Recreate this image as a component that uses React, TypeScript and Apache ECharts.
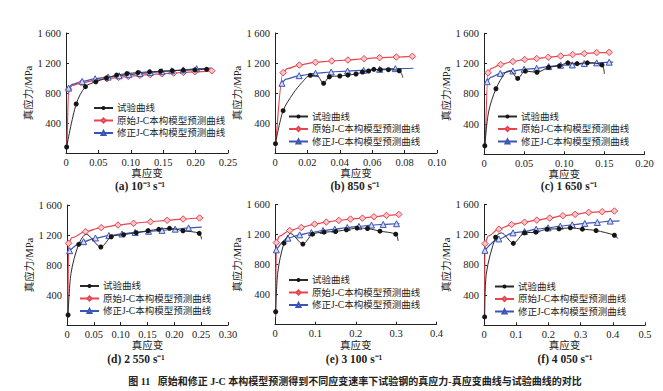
import React, { useEffect, useRef } from "react";
import * as echarts from "echarts";

type P = [number, number];

const SERIES_NAMES = ["试验曲线", "原始J-C本构模型预测曲线", "修正J-C本构模型预测曲线"];
const PANEL_LABELS = ["(a) 10⁻³ s⁻¹", "(b) 850 s⁻¹", "(c) 1 650 s⁻¹", "(d) 2 550 s⁻¹", "(e) 3 100 s⁻¹", "(f) 4 050 s⁻¹"];
const X_MAX = [0.25, 0.1, 0.2, 0.3, 0.4, 0.5];
const X_STEP = [0.05, 0.02, 0.05, 0.05, 0.1, 0.1];
const X_DECIMALS = [2, 2, 2, 2, 1, 1];
const Y_MAX = 1600;
const Y_STEP = 400;
const X_NAME = "真应变";
const Y_NAME = "真应力/MPa";
const FIGURE_CAPTION = "图 11   原始和修正 J-C 本构模型预测得到不同应变速率下试验钢的真应力-真应变曲线与试验曲线的对比";

// (a) 10^-3 s^-1
const expA: P[] = [[0.001, 80], [0.0157, 653], [0.030, 885], [0.046, 950], [0.0625, 1000], [0.078, 1038], [0.094, 1058], [0.111, 1072], [0.129, 1082], [0.146, 1090], [0.164, 1097], [0.181, 1104], [0.199, 1108], [0.217, 1116]];
const expAPath: P[] = [];
const redA: P[] = [[0.004, 850], [0.024, 935], [0.045, 968], [0.063, 990], [0.081, 1008], [0.096, 1022], [0.114, 1035], [0.130, 1046], [0.148, 1056], [0.166, 1066], [0.181, 1074], [0.199, 1083], [0.225, 1096]];
const redAPath: P[] = [[0.0015, 60], [0.010, 900]];
const blueA: P[] = [[0.004, 865], [0.025, 955], [0.045, 990], [0.065, 1012], [0.082, 1030], [0.097, 1045], [0.114, 1060], [0.130, 1072], [0.148, 1085], [0.163, 1096], [0.181, 1108], [0.2016, 1124]];
const blueAPath: P[] = [[0.010, 915], [0.224, 1132]];

// (b) 850 s^-1
const expB: P[] = [[0.0003, 124], [0.005, 564], [0.0218, 1036], [0.030, 929], [0.0336, 1017], [0.040, 1027], [0.045, 1040], [0.050, 1053], [0.054, 1080], [0.0578, 1093], [0.061, 1116], [0.065, 1111], [0.070, 1111], [0.0767, 1097]];
const expBPath: P[] = [[0.0113, 796], [0.0165, 937], [0.026, 1030], [0.079, 1004]];
const redB: P[] = [[0.005, 1071], [0.015, 1173], [0.025, 1209], [0.035, 1227], [0.045, 1240], [0.055, 1257], [0.0646, 1271], [0.0749, 1280], [0.0848, 1289]];
const redBPath: P[] = [[0.0003, 60], [0.0075, 1125]];
const blueB: P[] = [[0.0043, 929], [0.0149, 1031], [0.025, 1062], [0.0347, 1080], [0.0448, 1093], [0.0547, 1102], [0.0646, 1116], [0.0743, 1125]];
const blueBPath: P[] = [[0.007, 985], [0.0854, 1130]];

// (c) 1 650 s^-1
const expC: P[] = [[0.001, 113], [0.0149, 867], [0.042, 1003], [0.0515, 1100], [0.066, 1085], [0.0805, 1150], [0.094, 1170], [0.1045, 1210], [0.116, 1199], [0.1288, 1210], [0.147, 1182]];
const expCPath: P[] = [[0.0057, 560], [0.0265, 1079], [0.0328, 1106], [0.150, 1062]];
const redC: P[] = [[0.005, 1077], [0.0207, 1187], [0.036, 1227], [0.0506, 1253], [0.0656, 1266], [0.0801, 1283], [0.0955, 1300], [0.1104, 1319], [0.125, 1332], [0.1404, 1345], [0.156, 1349]];
const redCPath: P[] = [[0.0015, 80], [0.009, 1135]];
const blueC: P[] = [[0.004, 960], [0.0203, 1070], [0.036, 1102], [0.050, 1124], [0.0656, 1137], [0.0806, 1160], [0.0955, 1178], [0.110, 1182], [0.125, 1200], [0.1404, 1209], [0.156, 1218]];
const blueCPath: P[] = [[0.009, 1020], [0.161, 1220]];

// (d) 2 550 s^-1
const expD: P[] = [[0.002, 133], [0.0218, 1076], [0.063, 1040], [0.0825, 1177], [0.1054, 1204], [0.129, 1231], [0.151, 1257], [0.171, 1276], [0.191, 1289], [0.216, 1257], [0.2464, 1222]];
const expDPath: P[] = [[0.0075, 690], [0.036, 1210], [0.2508, 1143]];
const redD: P[] = [[0.003, 1089], [0.0345, 1244], [0.0637, 1298], [0.095, 1333], [0.124, 1356], [0.1555, 1377], [0.1866, 1396], [0.2163, 1413], [0.247, 1427]];
const redDPath: P[] = [[0.0015, 100], [0.009, 1165], [0.254, 1430]];
const blueD: P[] = [[0.0049, 991], [0.031, 1111], [0.053, 1160], [0.078, 1192], [0.1025, 1214], [0.127, 1234], [0.152, 1250], [0.177, 1262], [0.2016, 1278], [0.2265, 1295]];
const blueDPath: P[] = [[0.251, 1305]];

// (e) 3 100 s^-1
const expE: P[] = [[0.0017, 172], [0.0223, 1085], [0.069, 1073], [0.0927, 1205], [0.1214, 1232], [0.15, 1241], [0.177, 1264], [0.2032, 1286], [0.229, 1281], [0.260, 1245], [0.299, 1205]];
const expEPath: P[] = [[0.007, 700], [0.039, 1213], [0.305, 1116]];
const redE: P[] = [[0.0033, 1093], [0.0364, 1254], [0.065, 1294], [0.098, 1339], [0.127, 1366], [0.158, 1388], [0.187, 1406], [0.2166, 1419], [0.245, 1437], [0.276, 1455], [0.3066, 1468]];
const redEPath: P[] = [[0.0015, 100], [0.011, 1180]];
const blueE: P[] = [[0.0033, 996], [0.032, 1152], [0.061, 1196], [0.09, 1227], [0.119, 1254], [0.148, 1272], [0.179, 1294], [0.208, 1308], [0.239, 1326], [0.268, 1335], [0.301, 1344]];
const blueEPath: P[] = [[0.308, 1346]];

// (f) 4 050 s^-1
const expF: P[] = [[0.002, 111], [0.036, 1164], [0.091, 1084], [0.126, 1222], [0.161, 1231], [0.196, 1271], [0.233, 1276], [0.268, 1289], [0.3056, 1271], [0.348, 1253], [0.405, 1191]];
const expFPath: P[] = [[0.0075, 690], [0.054, 1222], [0.416, 1147]];
const redF: P[] = [[0.003, 1080], [0.0463, 1271], [0.0856, 1333], [0.126, 1364], [0.164, 1391], [0.204, 1418], [0.245, 1449], [0.283, 1467], [0.325, 1493], [0.367, 1502], [0.405, 1511]];
const redFPath: P[] = [[0.0015, 100], [0.013, 1180]];
const blueF: P[] = [[0.003, 991], [0.046, 1142], [0.090, 1222], [0.126, 1240], [0.162, 1271], [0.199, 1289], [0.237, 1311], [0.274, 1329], [0.313, 1347], [0.352, 1360], [0.392, 1378]];
const blueFPath: P[] = [[0.421, 1382]];

const EXP = [expA, expB, expC, expD, expE, expF];
const EXP_PATH = [expAPath, expBPath, expCPath, expDPath, expEPath, expFPath];
const RED = [redA, redB, redC, redD, redE, redF];
const RED_PATH = [redAPath, redBPath, redCPath, redDPath, redEPath, redFPath];
const BLUE = [blueA, blueB, blueC, blueD, blueE, blueF];
const BLUE_PATH = [blueAPath, blueBPath, blueCPath, blueDPath, blueEPath, blueFPath];

// layout
const GRIDS = [
  { left: 66, top: 33, width: 162, height: 120 },
  { left: 275, top: 33, width: 162, height: 120 },
  { left: 484, top: 33.3, width: 160.5, height: 121 },
  { left: 67, top: 205, width: 161, height: 120 },
  { left: 275, top: 204.5, width: 161.5, height: 120.2 },
  { left: 484, top: 204.3, width: 161, height: 121 },
];
const Y_NAME_GAP = [27, 18, 23, 29, 26, 25];
const LEGEND_POS = [
  { left: 93, top: 102.5 },
  { left: 288, top: 111 },
  { left: 497, top: 111 },
  { left: 79, top: 280.5 },
  { left: 288, top: 274.5 },
  { left: 494, top: 281 },
];
const LABEL_POS = [
  [140, 186], [355, 186], [569, 186], [136, 359], [354, 359], [565, 359],
];

const FONT = "'Liberation Serif', 'Noto Sans CJK SC', serif";
const INK = "#222";
const RED_C = "#e8434e";
const BLUE_C = "#3b55b5";

function build(marks: P[], path: P[]) {
  const pts = [
    ...marks.map((p) => ({ v: p, m: true })),
    ...path.map((p) => ({ v: p, m: false })),
  ];
  pts.sort((a, b) => a.v[0] - b.v[0]);
  return pts.map((p) => (p.m ? { value: p.v } : { value: p.v, symbol: "none" }));
}

export default function App() {
  const ref = useRef<HTMLDivElement>(null);
  useEffect(() => {
    document.body.style.margin = "0";
    if (!ref.current) return;
    const chart = echarts.init(ref.current, undefined, { renderer: "svg" });

    const xAxis = GRIDS.map((_, i) => ({
      type: "value",
      gridIndex: i,
      min: 0,
      max: X_MAX[i],
      interval: X_STEP[i],
      name: X_NAME,
      nameLocation: "middle",
      nameGap: 13.5,
      nameTextStyle: { fontFamily: FONT, fontSize: 10.5, color: INK },
      axisLine: { lineStyle: { color: INK, width: 1 } },
      axisTick: { inside: true, length: 3, lineStyle: { color: INK } },
      splitLine: { show: false },
      axisLabel: {
        margin: 4,
        fontFamily: FONT,
        fontSize: 10.5,
        color: INK,
        formatter: (v: number) => (v === 0 ? "0" : v.toFixed(X_DECIMALS[i])),
      },
    }));
    const yAxis = GRIDS.map((_, i) => ({
      type: "value",
      gridIndex: i,
      min: 0,
      max: Y_MAX,
      interval: Y_STEP,
      name: Y_NAME,
      nameLocation: "middle",
      nameGap: Y_NAME_GAP[i],
      nameRotate: 90,
      nameTextStyle: { fontFamily: FONT, fontSize: 10.5, color: INK },
      axisLine: { show: true, lineStyle: { color: INK, width: 1 } },
      axisTick: { show: true, inside: true, length: 3, lineStyle: { color: INK } },
      splitLine: { show: false },
      axisLabel: {
        margin: 5,
        fontFamily: FONT,
        fontSize: 10.5,
        color: INK,
        formatter: (v: number) => {
          if (v === 0) return "";
          if (v >= 1000) {
            const s = String(v);
            return s.slice(0, s.length - 3) + " " + s.slice(-3);
          }
          return String(v);
        },
      },
    }));

    const series: any[] = [];
    GRIDS.forEach((_, i) => {
      series.push({
        type: "line",
        name: SERIES_NAMES[0],
        xAxisIndex: i,
        yAxisIndex: i,
        data: build(EXP[i], EXP_PATH[i]),
        smooth: 0.3,
        showAllSymbol: true,
        symbol: "circle",
        symbolSize: 5,
        lineStyle: { color: "#2a2a2a", width: 1 },
        itemStyle: { color: "#151515" },
        z: 3,
      });
      series.push({
        type: "line",
        name: SERIES_NAMES[1],
        xAxisIndex: i,
        yAxisIndex: i,
        data: build(RED[i], RED_PATH[i]),
        smooth: 0.3,
        smoothMonotone: "x",
        showAllSymbol: true,
        symbol: "diamond",
        symbolSize: 6.5,
        lineStyle: { color: RED_C, width: 1.2 },
        itemStyle: { color: "#f8c6c8", borderColor: RED_C, borderWidth: 1 },
        z: 2,
      });
      series.push({
        type: "line",
        name: SERIES_NAMES[2],
        xAxisIndex: i,
        yAxisIndex: i,
        data: build(BLUE[i], BLUE_PATH[i]),
        smooth: 0.3,
        smoothMonotone: "x",
        showAllSymbol: true,
        symbol: "triangle",
        symbolSize: 6,
        lineStyle: { color: BLUE_C, width: 1.2 },
        itemStyle: { color: "#d3dbf5", borderColor: BLUE_C, borderWidth: 1 },
        z: 2,
      });
    });

    const legend = LEGEND_POS.map((p) => ({
      orient: "vertical",
      left: p.left,
      top: p.top,
      padding: 0,
      itemWidth: 19,
      itemHeight: 5,
      itemGap: 1.5,
      selectedMode: false,
      data: SERIES_NAMES,
      textStyle: { fontFamily: FONT, fontSize: 9.5, lineHeight: 11, color: INK, padding: [0, 0, 0, -1] },
    }));

    const graphic: any[] = PANEL_LABELS.map((t, i) => ({
      type: "text",
      x: LABEL_POS[i][0],
      y: LABEL_POS[i][1],
      style: {
        text: t,
        fill: INK,
        font: `bold 11.5px ${FONT}`,
        align: "center",
        verticalAlign: "middle",
      },
    }));
    graphic.push({
      type: "text",
      x: 355,
      y: 381,
      style: {
        text: FIGURE_CAPTION,
        fill: INK,
        font: `bold 10px ${FONT}`,
        align: "center",
        verticalAlign: "middle",
      },
    });

    chart.setOption({
      animation: false,
      backgroundColor: "#fff",
      grid: GRIDS.map((g) => ({ ...g, containLabel: false })),
      xAxis,
      yAxis,
      legend,
      series,
      graphic,
    } as any);
    return () => chart.dispose();
  }, []);
  return <div ref={ref} style={{ width: 663, height: 391 }} />;
}
